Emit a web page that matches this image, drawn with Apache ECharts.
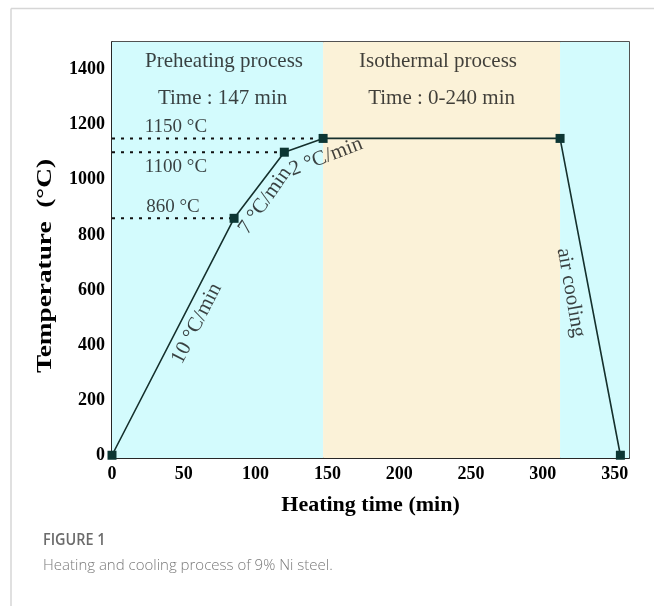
<!DOCTYPE html>
<html>
<head>
<meta charset="utf-8">
<script src="https://cdn.jsdelivr.net/npm/echarts@6/dist/echarts.min.js"></script>
<style>
  html, body { margin: 0; padding: 0; background: #fff; }
  #chart { width: 654px; height: 606px; }
</style>
</head>
<body>
<div id="chart"></div>
<script>
// Heat-treatment schedule of 9% Ni steel: time (min) vs temperature (°C)
const timeMin = [0, 85, 120, 147, 312, 354];
const tempC   = [0, 860, 1100, 1150, 1150, 0];

// Process stages shaded behind the curve (start, end in minutes)
const stageNames = ['preheat', 'isothermal', 'cooling'];
const stageStart = [0, 147, 312];
const stageEnd   = [147, 312, 360];

// Dotted reference levels drawn from the axis to the curve
const guideTemps = [1150, 1100, 860];
const guideEnds  = [147, 120, 85];

// Tick labels
const xTicks = [0, 50, 100, 150, 200, 250, 300, 350];
const yTicks = [0, 200, 400, 600, 800, 1000, 1200, 1400];

// Annotation texts
const noteTexts = ['Preheating process', 'Time : 147 min', 'Isothermal process', 'Time : 0-240 min',
                   '1150 °C', '1100 °C', '860 °C',
                   '10 °C/min', '7 °C/min', '2 °C/min', 'air cooling'];

// Placement of each annotation: [time, temperature, rotation in degrees, font size]
const notePlace = [
  [78, 1428, 0, 21], [77, 1295, 0, 21], [227, 1428, 0, 21], [229.5, 1295, 0, 21],
  [44.5, 1190, 0, 19], [44.5, 1048, 0, 19], [42.5, 902, 0, 19],
  [59, 478, 63, 21], [106.5, 924, 55, 21], [149, 1083, 21, 21], [319.5, 590, -80, 21]
];

const serif = 'Liberation Serif';
const stageColors = ['#d3fbfd', '#fbf2d8', '#d3fbfd'];

const chart = echarts.init(document.getElementById('chart'), null, { renderer: 'canvas' });

const series = [];

// shaded stage bands
series.push({
  type: 'line',
  data: [],
  silent: true,
  markArea: {
    silent: true,
    data: stageNames.map((n, i) => [
      { xAxis: stageStart[i], itemStyle: { color: stageColors[i] } },
      { xAxis: stageEnd[i] }
    ])
  }
});

// dotted guides
guideTemps.forEach((t, i) => {
  series.push({
    type: 'line',
    data: [[0, t], [guideEnds[i], t]],
    symbol: 'none',
    silent: true,
    lineStyle: { color: '#111', width: 2, type: [3, 6] },
    z: 3
  });
});

// main temperature curve
series.push({
  type: 'line',
  data: timeMin.map((x, i) => [x, tempC[i]]),
  symbol: 'rect',
  symbolSize: 9,
  showAllSymbol: true,
  lineStyle: { color: '#15302d', width: 1.6 },
  itemStyle: { color: '#0c3633', borderWidth: 0 },
  z: 5
});

// text annotations
series.push({
  type: 'scatter',
  symbolSize: 0,
  silent: true,
  z: 6,
  data: noteTexts.map((txt, i) => ({
    value: [notePlace[i][0], notePlace[i][1]],
    name: txt,
    label: { rotate: notePlace[i][2], fontSize: notePlace[i][3] }
  })),
  label: {
    show: true,
    position: 'inside',
    formatter: p => p.name,
    fontFamily: serif,
    color: '#111'
  }
});

const option = {
  backgroundColor: '#fff',
  animation: false,
  grid: {
    left: 112, right: 25, top: 42, bottom: 148,
    show: true,
    borderColor: '#1a1a1a',
    borderWidth: 1.5,
    backgroundColor: 'transparent'
  },
  xAxis: {
    type: 'value',
    min: 0, max: 360,
    name: 'Heating time (min)',
    nameLocation: 'middle',
    nameGap: 36,
    nameTextStyle: { fontFamily: serif, fontWeight: 'bold', fontSize: 22, color: '#000' },
    axisLine: { show: true, onZero: false, lineStyle: { color: '#1a1a1a', width: 1.5 } },
    axisTick: { show: true, inside: true, length: 6, customValues: xTicks, lineStyle: { color: '#1a1a1a', width: 1.2 } },
    axisLabel: { customValues: xTicks, formatter: v => String(v), fontFamily: serif, fontWeight: 'bold', fontSize: 18, color: '#000', margin: 7 },
    splitLine: { show: false }
  },
  yAxis: {
    type: 'value',
    min: -10, max: 1500,
    axisLine: { show: true, onZero: false, lineStyle: { color: '#1a1a1a', width: 1.5 } },
    axisTick: { show: true, inside: true, length: 6, customValues: yTicks, lineStyle: { color: '#1a1a1a', width: 1.2 } },
    axisLabel: { customValues: yTicks, formatter: v => String(v), fontFamily: serif, fontWeight: 'bold', fontSize: 18, color: '#000', margin: 7 },
    splitLine: { show: false }
  },
  graphic: [
    { type: 'line', shape: { x1: 11, y1: 8.5, x2: 654, y2: 8.5 }, style: { stroke: '#d6d6d6', lineWidth: 1.5 } },
    { type: 'line', shape: { x1: 11, y1: 8.5, x2: 11, y2: 606 }, style: { stroke: '#d6d6d6', lineWidth: 1.5 } },
    // y-axis title, stretched along its baseline
    {
      type: 'text', x: 46, y: 266, rotation: Math.PI / 2, scaleX: 1.3,
      style: { text: 'Temperature  (°C)', font: 'bold 21px "Liberation Serif"', fill: '#000', align: 'center', verticalAlign: 'middle' }
    },
    { type: 'text', x: 43, y: 540, scaleX: 0.85, style: { text: 'FIGURE 1', font: '600 17px "Open Sans"', fill: '#6b6b6b', verticalAlign: 'middle' } },
    { type: 'text', x: 43, y: 566, style: { text: 'Heating and cooling process of 9% Ni steel.', font: '300 15px "Open Sans"', fill: '#7a7a7a', verticalAlign: 'middle' } }
  ],
  series: series
};

chart.setOption(option);
</script>
</body>
</html>
